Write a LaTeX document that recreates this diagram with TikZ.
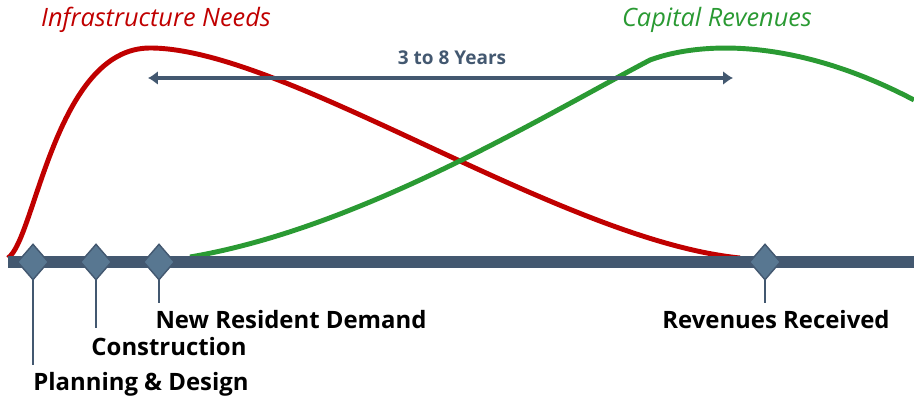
\documentclass[tikz,border=0pt]{standalone}
\usepackage{fontspec}
\setmainfont{Open Sans}
\usetikzlibrary{shapes.geometric,arrows.meta}
\definecolor{slate}{HTML}{435870}
\definecolor{markfill}{HTML}{587791}
\definecolor{needred}{HTML}{C00000}
\definecolor{revgreen}{HTML}{2A9A33}
\tikzset{
  milestone/.style={diamond,draw=slate,fill=markfill,line width=1pt,inner sep=0pt,minimum width=0.78cm,minimum height=0.9cm},
  stem/.style={slate,line width=1.4pt},
  stagetext/.style={font=\bfseries\fontsize{17}{20}\selectfont,text=black,inner sep=0pt},
  curvetitle/.style={font=\itshape\fontsize{18}{21}\selectfont,inner sep=0pt}
}
\begin{document}
\begin{tikzpicture}[x=0.025cm,y=-0.025cm]
	\useasboundingbox (0,0) rectangle (914,399);

	% curves
	\draw[needred,line width=3.5pt] (8,258) .. controls (35,240) and (55,48) .. (150,48)
		.. controls (285,48) and (560,240) .. (740,258);
	\draw[revgreen,line width=3.5pt] (190,257) .. controls (360,228) and (540,118) .. (650,60)
		.. controls (705,40) and (800,40) .. (914,100);

	\node(need) at (156,20)[curvetitle,text=needred]{Infrastructure Needs};
	\node(rev) at (717,20)[curvetitle,text=revgreen]{Capital Revenues};

	% span of years
	\coordinate(yl) at (148,78);
	\coordinate(yr) at (733,78);
	\draw[slate,line width=2.6pt,{Latex[length=7pt,width=10pt]}-{Latex[length=7pt,width=10pt]}] (yl) -- (yr);
	\node(years) at (452,58)[font=\bfseries\fontsize{13.5}{16}\selectfont,text=slate]{3 to 8 Years};

	% timeline
	\coordinate(t0) at (8,262);
	\coordinate(t1) at (914,262);
	\draw[slate,line width=8pt] (t0) -- (t1);

	\coordinate(s1) at (33,365);
	\coordinate(s2) at (96,328);
	\coordinate(s3) at (159,303);
	\coordinate(s4) at (765,303);
	\draw[stem] (33,262) -- (s1);
	\draw[stem] (96,262) -- (s2);
	\draw[stem] (159,262) -- (s3);
	\draw[stem] (765,262) -- (s4);

	\node(plan) at (33,262)[milestone]{};
	\node(build) at (96,262)[milestone]{};
	\node(demand) at (159,262)[milestone]{};
	\node(received) at (765,262)[milestone]{};

	\node(plantext) at (141,384)[stagetext]{Planning \& Design};
	\node(buildtext) at (169,347)[stagetext]{Construction};
	\node(demandtext) at (291,320)[stagetext]{New Resident Demand};
	\node(receivedtext) at (776,320)[stagetext]{Revenues Received};

\end{tikzpicture}
\end{document}
